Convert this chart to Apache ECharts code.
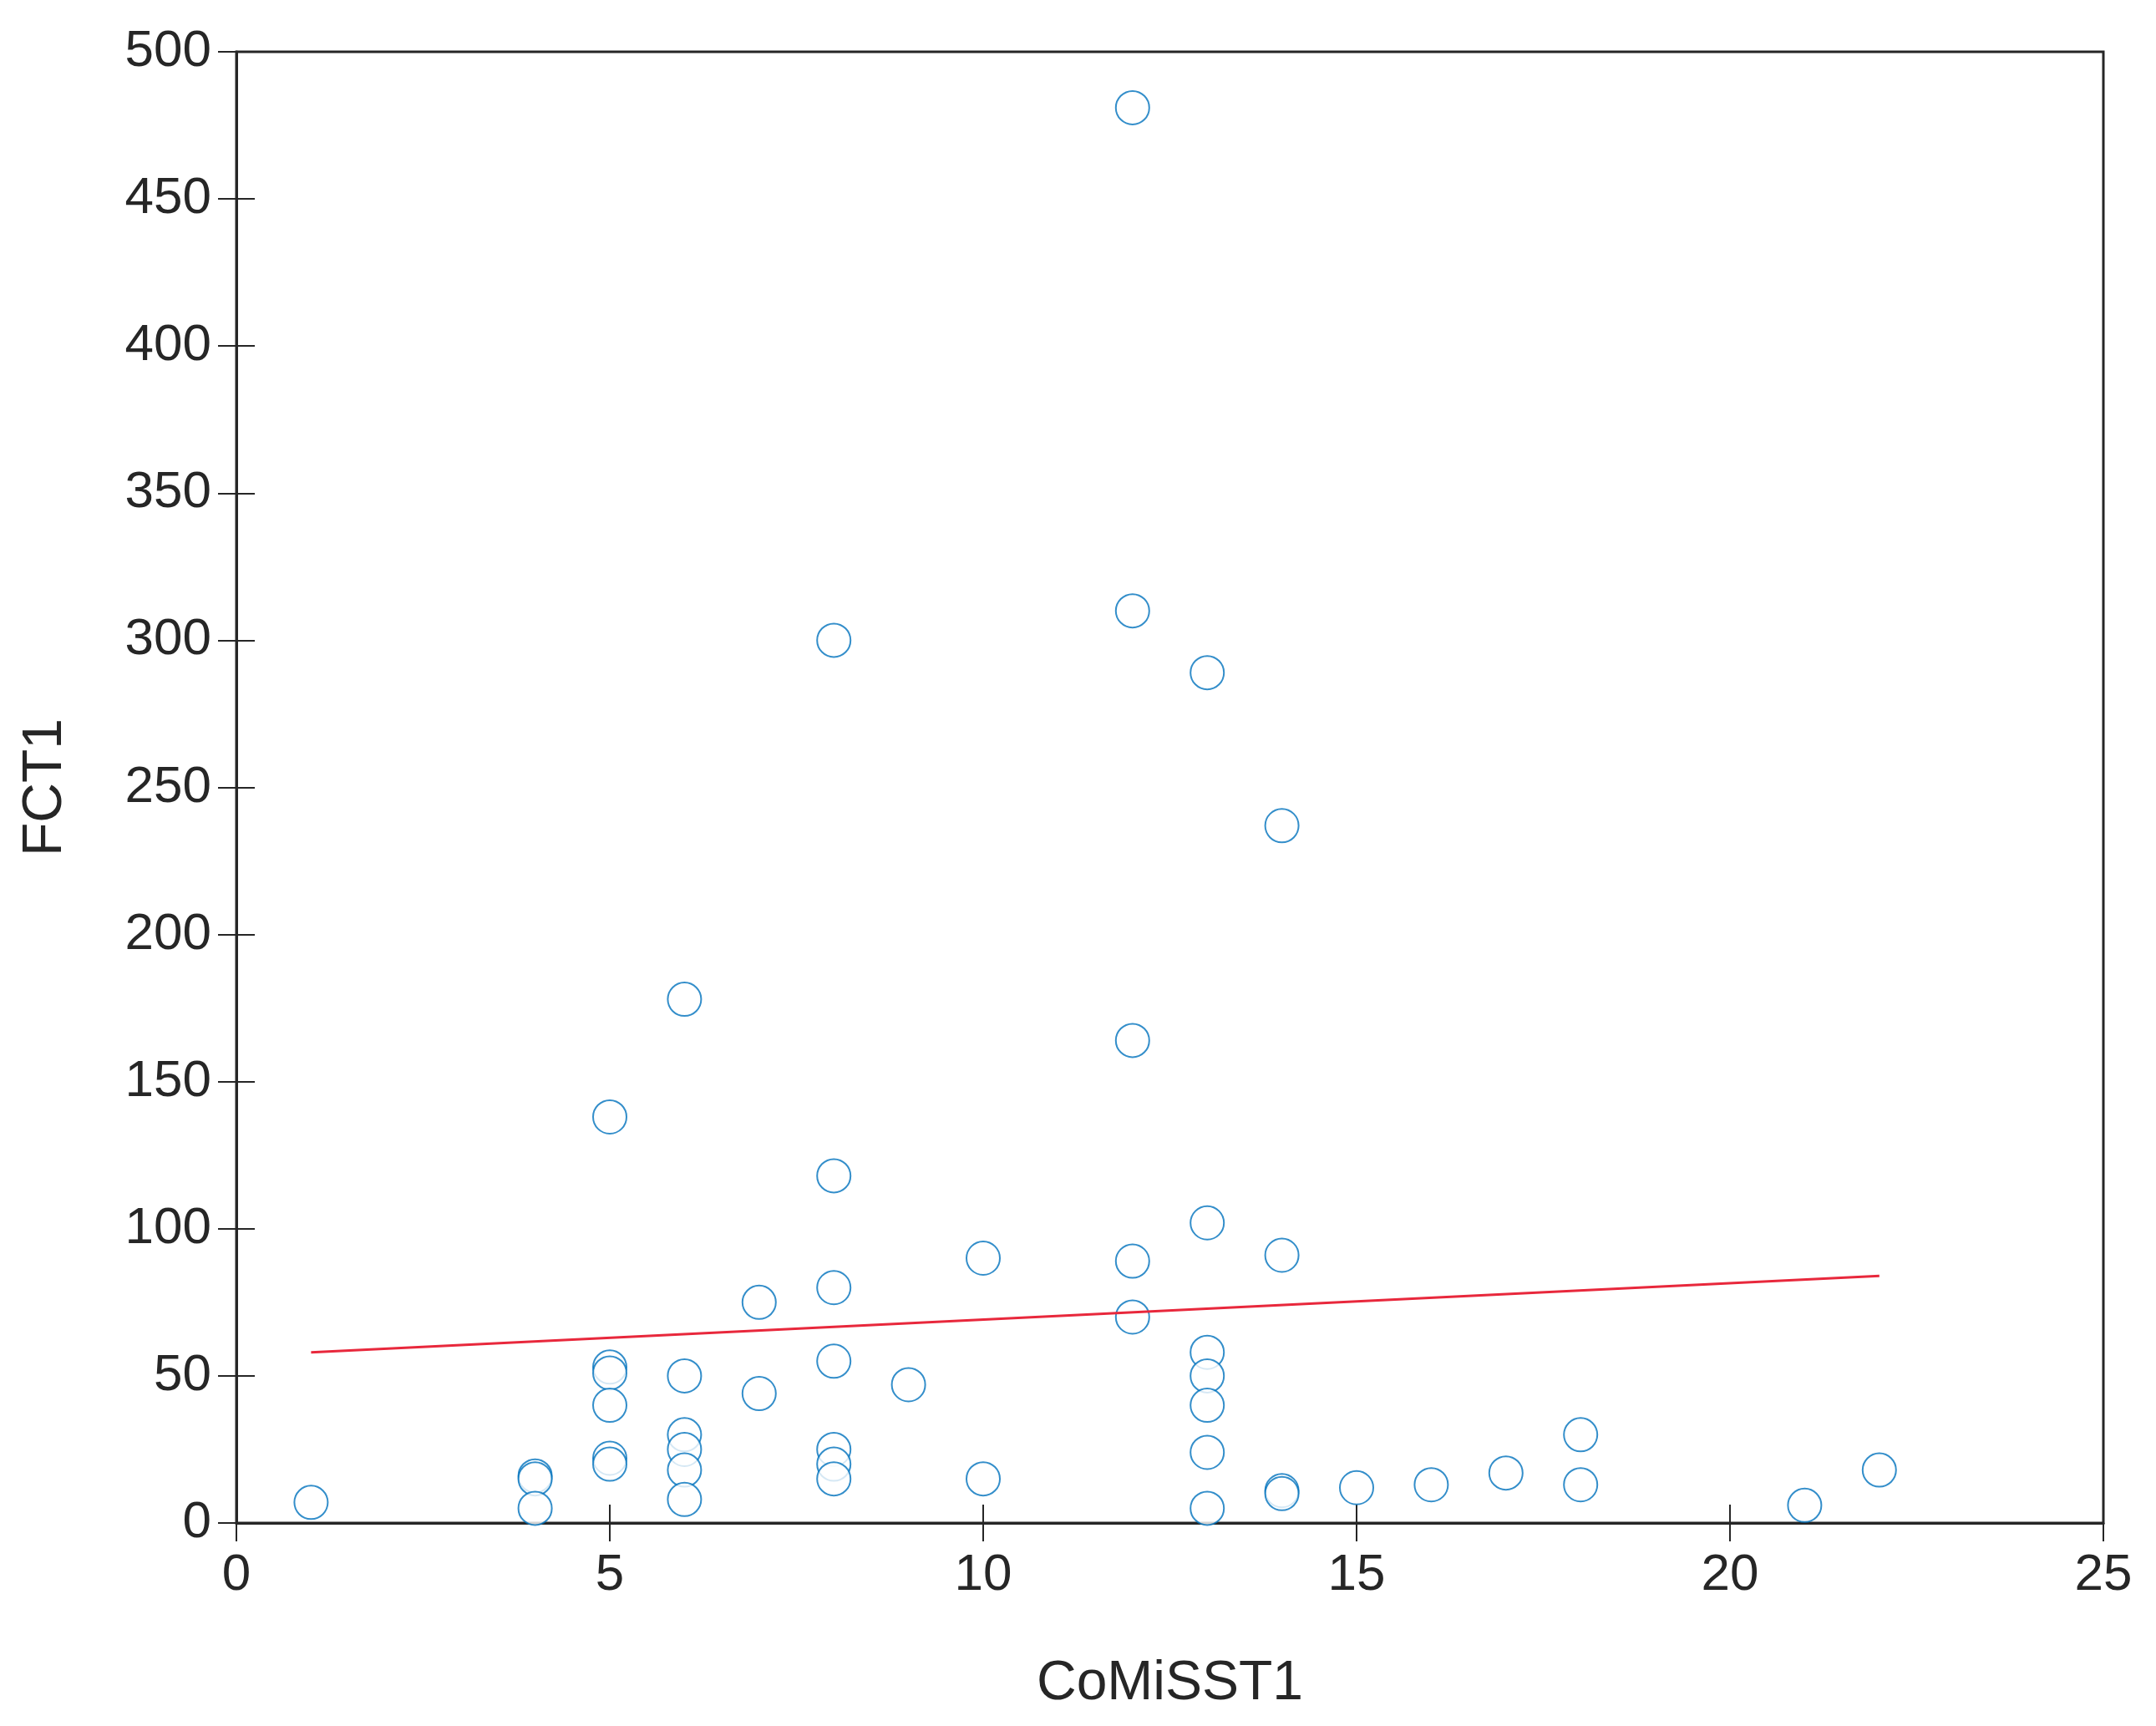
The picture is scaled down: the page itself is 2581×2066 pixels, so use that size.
<!DOCTYPE html>
<html>
<head>
<meta charset="utf-8">
<script src="https://cdn.jsdelivr.net/npm/echarts@6/dist/echarts.min.js"></script>
<style>html,body{margin:0;background:#fff}#container{width:2581px;height:2066px}</style>
</head>
<body>
<div id="container"></div>
<script>
var xValues = [1, 4, 4, 4, 5, 5, 5, 5, 5, 5, 6, 6, 6, 6, 6, 6, 7, 7, 8, 8, 8, 8, 8, 8, 8, 9, 10, 10,
  12, 12, 12, 12, 12, 13, 13, 13, 13, 13, 13, 13, 14, 14, 14, 14, 15, 16, 17, 18, 18, 21, 22];
var yValues = [7, 16, 15, 5, 53, 51, 40, 22, 20, 138, 178, 50, 30, 25, 18, 8, 75, 44, 300, 118, 80, 55, 25, 20, 15, 47, 90, 15,
  481, 310, 164, 89, 70, 289, 102, 58, 50, 40, 24, 5, 237, 91, 11, 10, 12, 13, 17, 30, 13, 6, 18];
var fitLine = [[1, 58], [22, 84]];

var points = [];
for (var i = 0; i < xValues.length; i++) points.push([xValues[i], yValues[i]]);

var myChart = echarts.init(document.getElementById('container'));
var axisText = {fontFamily: 'Liberation Sans', fontSize: 62, color: '#262626'};
var axisCommon = {
  axisLine: {show: true, onZero: false, lineStyle: {color: '#262626', width: 3}},
  axisTick: {show: true, inside: true, length: 22, lineStyle: {color: '#262626', width: 2}},
  splitLine: {show: false},
  nameTextStyle: {fontFamily: 'Liberation Sans', fontSize: 66, color: '#262626'}
};
var mirror = {
  axisLine: {show: false}, axisLabel: {show: false}, splitLine: {show: false},
  axisTick: {show: true, inside: true, length: 22, lineStyle: {color: '#262626', width: 2}}
};
var option = {
  animation: false,
  grid: {left: 283, right: 63, top: 62, bottom: 243, show: true, borderColor: '#262626', borderWidth: 3},
  xAxis: [Object.assign({}, axisCommon, {
    type: 'value', min: 0, max: 25, interval: 5,
    name: 'CoMiSST1', nameLocation: 'middle', nameGap: 160,
    axisLabel: Object.assign({margin: 32}, axisText)
  }), Object.assign({}, mirror, {type: 'value', min: 0, max: 25, interval: 5, position: 'top'})],
  yAxis: [Object.assign({}, axisCommon, {
    type: 'value', min: 0, max: 500, interval: 50,
    name: 'FCT1', nameLocation: 'middle', nameGap: 195,
    axisLabel: Object.assign({margin: 30}, axisText)
  }), Object.assign({}, mirror, {type: 'value', min: 0, max: 500, interval: 50, position: 'right'})],
  series: [{
    type: 'scatter',
    data: points,
    symbol: 'emptyCircle',
    symbolSize: 40,
    itemStyle: {color: '#0072BD', borderColor: '#0072BD', borderWidth: 2.5}
  }, {
    type: 'line',
    data: fitLine,
    symbol: 'none',
    lineStyle: {color: '#e8283c', width: 3}
  }]
};
myChart.setOption(option);
</script>
</body>
</html>
